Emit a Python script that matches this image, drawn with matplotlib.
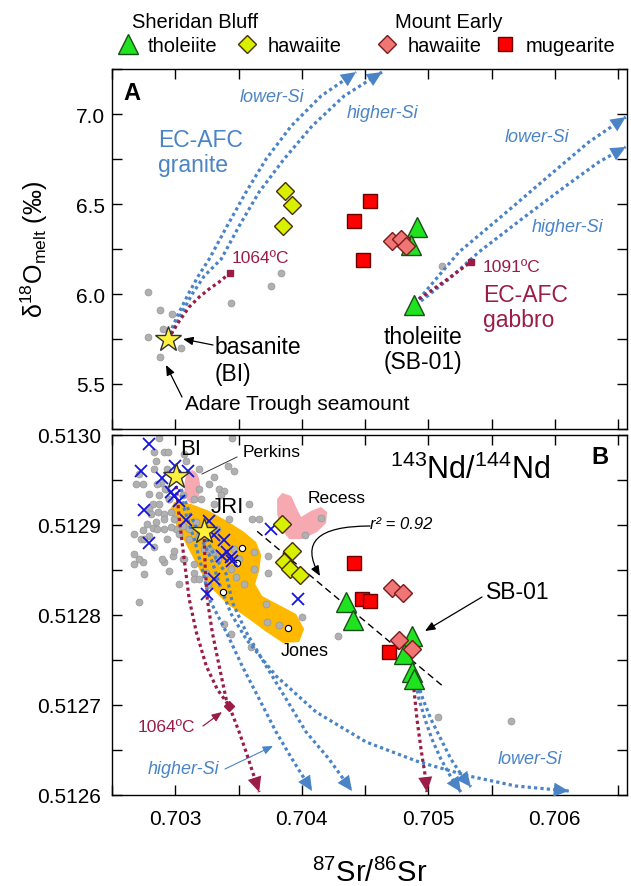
import matplotlib
matplotlib.use('Agg')
import matplotlib.pyplot as plt
from matplotlib.ticker import MultipleLocator, FormatStrFormatter
from matplotlib.patches import Polygon, Ellipse
from matplotlib.lines import Line2D

plt.rcParams['font.family'] = ['Liberation Sans', 'DejaVu Sans']

# ---------------- DATA: panel A (d18O melt vs 87Sr/86Sr) ----------------
sbthA_x = [0.70491, 0.70486, 0.70489]
sbthA_y = [6.372, 6.272, 5.94]
sbhwA_x = [0.70387, 0.70392, 0.70385]
sbhwA_y = [6.572, 6.494, 6.378]
mehwA_x = [0.70471, 0.70478, 0.70482]
mehwA_y = [6.294, 6.306, 6.267]
memgA_x = [0.70454, 0.70441, 0.70448]
memgA_y = [6.517, 6.406, 6.189]
biA = (0.702945, 5.75)
grayA_x = [0.702787, 0.702882, 0.702976, 0.702905, 0.702787, 0.703047, 0.702882,
           0.703442, 0.703758, 0.703837, 0.705107]
grayA_y = [6.011, 5.911, 5.889, 5.806, 5.761, 5.700, 5.650, 5.950, 6.044, 6.117, 6.156]

granLo_x = [0.702953, 0.703024, 0.703103, 0.703182, 0.703268, 0.703410, 0.703560,
            0.703718, 0.703916, 0.704152, 0.704429]
granHi_x = [0.702968, 0.703047, 0.703134, 0.703229, 0.703363, 0.703505, 0.703663,
            0.703860, 0.704081, 0.704334, 0.704634]
gran_y = [5.778, 5.889, 6.000, 6.100, 6.194, 6.378, 6.567, 6.750, 6.933, 7.100, 7.233]
granRed_x = [0.702968, 0.703032, 0.703110, 0.703189, 0.703268, 0.703347, 0.703434]
granRed_y = [5.778, 5.850, 5.928, 5.983, 6.028, 6.067, 6.117]
gabLo_x = [0.704926, 0.705242, 0.705581, 0.705952, 0.706268, 0.706560]
gabLo_y = [5.972, 6.233, 6.433, 6.656, 6.844, 6.983]
gabHi_x = [0.704942, 0.705163, 0.705399, 0.705739, 0.706086, 0.706347, 0.706560]
gabHi_y = [5.961, 6.083, 6.233, 6.417, 6.600, 6.733, 6.817]
gabRed_x = [0.704926, 0.705131, 0.705336]
gabRed_y = [5.972, 6.072, 6.178]

# ---------------- DATA: panel B (143Nd/144Nd vs 87Sr/86Sr) ----------------
sbthB_x = [0.704350, 0.704405, 0.704871, 0.704807, 0.704871, 0.704886]
sbthB_y = [0.512814, 0.512794, 0.512777, 0.512757, 0.512737, 0.512729]
sbhwB_x = [0.703845, 0.703923, 0.703860, 0.703908, 0.703987]
sbhwB_y = [0.512901, 0.512871, 0.512859, 0.512851, 0.512844]
mehwB_x = [0.704713, 0.704800, 0.704768, 0.704871]
mehwB_y = [0.512830, 0.512824, 0.512772, 0.512762]
memgB_x = [0.704413, 0.704476, 0.704539, 0.704689]
memgB_y = [0.512858, 0.512818, 0.512816, 0.512759]
biB = (0.703008, 0.512954)
jriB = (0.703229, 0.512893)
xB_x = [0.702795, 0.702732, 0.702897, 0.703000, 0.703103, 0.702968, 0.702992, 0.703032,
        0.702755, 0.703087, 0.702795, 0.703268, 0.703308, 0.703387, 0.703371, 0.703410,
        0.703442, 0.703450, 0.703308, 0.703253, 0.703758, 0.703971]
xB_y = [0.512990, 0.512960, 0.512952, 0.512966, 0.512960, 0.512937, 0.512932, 0.512927,
        0.512917, 0.512906, 0.512880, 0.512904, 0.512889, 0.512883, 0.512866, 0.512870,
        0.512864, 0.512860, 0.512840, 0.512823, 0.512896, 0.512818]
grayB_x = [0.702874, 0.703452, 0.702834, 0.702913, 0.702939, 0.702847, 0.703084, 0.703413,
           0.703466, 0.703308, 0.702716, 0.702690, 0.702742, 0.702887, 0.702926, 0.702874,
           0.702953, 0.703058, 0.703347, 0.703387, 0.703360, 0.703203, 0.702821, 0.702795,
           0.702861, 0.702913, 0.702966, 0.702992, 0.702847, 0.702821, 0.702742, 0.702676,
           0.702729, 0.702795, 0.702913, 0.703005, 0.703058, 0.703111, 0.703163, 0.703189,
           0.703268, 0.703295, 0.703334, 0.703466, 0.703610, 0.703624, 0.703729, 0.703729,
           0.702676, 0.702742, 0.702913, 0.702979, 0.703058, 0.703150, 0.703242, 0.703255,
           0.703150, 0.702716, 0.703479, 0.703440, 0.704002, 0.703718, 0.703726, 0.703821,
           0.703387, 0.703442, 0.703600, 0.704287, 0.705076, 0.705652, 0.704152, 0.704026,
           0.702858, 0.702921, 0.702795, 0.702953, 0.702874, 0.702811, 0.702913, 0.702968,
           0.702858, 0.702779, 0.703032, 0.703110, 0.702937, 0.702834, 0.702992, 0.703071,
           0.702897, 0.703150, 0.702953, 0.703189, 0.703032, 0.702716, 0.702755, 0.703229,
           0.703150, 0.703189, 0.703268, 0.703189, 0.702937, 0.702834, 0.703071, 0.703308,
           0.703331, 0.703505, 0.703545, 0.703624, 0.703426, 0.703584, 0.703663, 0.702755,
           0.702676]
grayB_y = [0.512997, 0.512997, 0.512981, 0.512981, 0.512981, 0.512971, 0.512971, 0.512966,
           0.512960, 0.512953, 0.512957, 0.512946, 0.512946, 0.512947, 0.512940, 0.512933,
           0.512929, 0.512933, 0.512940, 0.512938, 0.512933, 0.512929, 0.512923, 0.512918,
           0.512914, 0.512912, 0.512914, 0.512907, 0.512903, 0.512897, 0.512894, 0.512890,
           0.512884, 0.512888, 0.512896, 0.512896, 0.512899, 0.512896, 0.512903, 0.512888,
           0.512873, 0.512870, 0.512862, 0.512873, 0.512907, 0.512870, 0.512847, 0.512866,
           0.512857, 0.512859, 0.512859, 0.512866, 0.512862, 0.512847, 0.512847, 0.512833,
           0.512840, 0.512814, 0.512842, 0.512851, 0.512798, 0.512812, 0.512792, 0.512789,
           0.512790, 0.512779, 0.512764, 0.512777, 0.512687, 0.512682, 0.512908, 0.512889,
           0.512946, 0.512940, 0.512934, 0.512929, 0.512923, 0.512912, 0.512907, 0.512898,
           0.512896, 0.512901, 0.512890, 0.512884, 0.512884, 0.512876, 0.512871, 0.512862,
           0.512862, 0.512857, 0.512849, 0.512840, 0.512834, 0.512862, 0.512846, 0.512873,
           0.512929, 0.512940, 0.512946, 0.512962, 0.512962, 0.512962, 0.512979, 0.512923,
           0.512896, 0.512862, 0.512834, 0.512851, 0.512907, 0.512923, 0.512907, 0.512884,
           0.512868]
jonesW_x = [0.703529, 0.703489, 0.703379, 0.703892]
jonesW_y = [0.512874, 0.512858, 0.512826, 0.512786]
jones_x = [0.702992, 0.703126, 0.703268, 0.703410, 0.703545, 0.703639, 0.703679, 0.703663,
           0.703631, 0.703687, 0.703821, 0.703955, 0.704018, 0.703979, 0.703852, 0.703710,
           0.703560, 0.703410, 0.703292, 0.703197, 0.703126, 0.703055, 0.702992, 0.702961]
jones_y = [0.5129256, 0.5129233, 0.5129156, 0.5129044, 0.5128922, 0.5128811, 0.5128667,
           0.5128489, 0.5128344, 0.5128211, 0.5128111, 0.5128011, 0.5127844, 0.5127700,
           0.5127689, 0.5127822, 0.5127978, 0.5128122, 0.5128289, 0.5128489, 0.5128678,
           0.5128867, 0.5129044, 0.5129178]
recess_x = [0.703805, 0.703845, 0.703916, 0.703955, 0.703994, 0.704073, 0.704152, 0.704200,
            0.704192, 0.704121, 0.704002, 0.703900, 0.703837, 0.703805]
recess_y = [0.5129289, 0.5129356, 0.5129322, 0.5129200, 0.5129089, 0.5129156, 0.5129200,
            0.5129144, 0.5129022, 0.5128922, 0.5128844, 0.5128844, 0.5128956, 0.5129122]
perkins_c = (0.703134, 0.5129422)
reg_x = [0.703647, 0.705123]
reg_y = [0.512893, 0.512720]

red1_x = [0.703008, 0.703032, 0.703063, 0.703110, 0.703166, 0.703245, 0.703331, 0.703426,
          0.703505, 0.703560, 0.703663]
red1_y = [0.5129433, 0.5129067, 0.5128700, 0.5128178, 0.5127811, 0.5127433, 0.5127178,
          0.5126989, 0.5126700, 0.5126478, 0.5126033]
red2_x = [0.703229, 0.703237, 0.703253, 0.703292, 0.703347, 0.703402, 0.703426]
red2_y = [0.5128844, 0.5128511, 0.5128178, 0.5127811, 0.5127433, 0.5127067, 0.5126989]
red3_x = [0.704886, 0.704910, 0.704942, 0.704973, 0.704989]
red3_y = [0.5127178, 0.5126844, 0.5126511, 0.5126233, 0.5126033]
blu1_x = [0.703032, 0.703071, 0.703150, 0.703213, 0.703268, 0.703403, 0.703529, 0.703663,
          0.703797, 0.703923, 0.704081]
blu1_y = [0.5129400, 0.5129178, 0.5128844, 0.5128511, 0.5128178, 0.5127811, 0.5127433,
          0.5127067, 0.5126700, 0.5126400, 0.5126044]
blu2_x = [0.703245, 0.703324, 0.703403, 0.703450, 0.703560, 0.703718, 0.703876, 0.704034,
          0.704215, 0.704397]
blu2_y = [0.5128844, 0.5128622, 0.5128456, 0.5128144, 0.5127811, 0.5127433, 0.5127067,
          0.5126700, 0.5126400, 0.5126044]
blu3_x = [0.703047, 0.703110, 0.703189, 0.703284, 0.703363, 0.703442, 0.703560, 0.703797,
          0.704113, 0.704508, 0.704926, 0.705320, 0.705691, 0.706110]
blu3_y = [0.5129400, 0.5129144, 0.5128900, 0.5128622, 0.5128289, 0.5128011, 0.5127733,
          0.5127322, 0.5126922, 0.5126589, 0.5126367, 0.5126211, 0.5126100, 0.5126044]
sb1_x = [0.704902, 0.704926, 0.704973, 0.705028, 0.705099, 0.705178, 0.705257]
sb1_y = [0.5127233, 0.5127067, 0.5126844, 0.5126622, 0.5126400, 0.5126200, 0.5126033]
sb2_x = [0.704918, 0.704957, 0.705020, 0.705099, 0.705178, 0.705257, 0.705336]
sb2_y = [0.5127233, 0.5127067, 0.5126844, 0.5126622, 0.5126400, 0.5126233, 0.5126089]

# ---------------- styling ----------------
BLUE = '#4a84c6'
DRED = '#9b1c47'
GREEN = '#1fe31f'
YGRN = '#d6f000'
SALM = '#f07575'
RED = '#ff0000'
GRAYF = '#b0b0b0'
GRAYE = '#979797'

W, H = 631, 887
fig = plt.figure(figsize=(W / 100, H / 100), dpi=100)
axA = fig.add_axes([112 / W, 1 - 430 / H, 515 / W, 360 / H])
axB = fig.add_axes([112 / W, 1 - 796 / H, 515 / W, 360 / H])


def fa(px, py):
    return ((px - 112) / 515, (430 - py) / 360)


def fb(px, py):
    return ((px - 112) / 515, (796 - py) / 360)


DOT = (0, (1, 1))


def dotted(ax, xs, ys, color, head=True, lw=2.3, z=3):
    ax.plot(xs, ys, color=color, lw=lw, ls=DOT, zorder=z)
    if head:
        ax.annotate('', xy=(xs[-1], ys[-1]), xytext=(xs[-2], ys[-2]),
                    arrowprops=dict(arrowstyle='-|>,head_length=0.9,head_width=0.42',
                                    color=color, lw=0, shrinkA=0, shrinkB=0,
                                    mutation_scale=12), zorder=z, annotation_clip=False)


def symbols(ax, x, y, marker, fc, ec, ms, z=6):
    ax.plot(x, y, ls='none', marker=marker, mfc=fc, mec=ec, ms=ms, mew=1.0, zorder=z)


for ax in (axA, axB):
    ax.set_xlim(0.70250, 0.70657)
    ax.xaxis.set_major_locator(MultipleLocator(0.001))
    ax.xaxis.set_minor_locator(MultipleLocator(0.0005))
    ax.tick_params(which='both', direction='in', length=7, width=1,
                   top=True, right=True, labelsize=15)
    for s in ax.spines.values():
        s.set_linewidth(1.0)

# ---------- Panel A ----------
axA.set_ylim(5.25, 7.25)
axA.yaxis.set_major_locator(MultipleLocator(0.5))
axA.yaxis.set_minor_locator(MultipleLocator(0.25))
axA.yaxis.set_major_formatter(FormatStrFormatter('%.1f'))
axA.tick_params(axis='x', labelbottom=False)
axA.tick_params(axis='y', pad=5)

axA.plot(grayA_x, grayA_y, ls='none', marker='o', ms=5, mfc=GRAYF, mec=GRAYE,
         mew=0.5, zorder=2)
dotted(axA, granLo_x, gran_y, BLUE)
dotted(axA, granHi_x, gran_y, BLUE)
dotted(axA, gabLo_x, gabLo_y, BLUE)
dotted(axA, gabHi_x, gabHi_y, BLUE)
dotted(axA, granRed_x, granRed_y, DRED, head=False, z=4)
axA.plot(granRed_x[-1], granRed_y[-1], marker='s', ms=5, color=DRED, zorder=4)
dotted(axA, gabRed_x, gabRed_y, DRED, head=False, z=4)
axA.plot(gabRed_x[-1], gabRed_y[-1], marker='s', ms=5, color=DRED, zorder=4)

symbols(axA, sbthA_x, sbthA_y, '^', GREEN, '#1b4d1b', 14)
symbols(axA, sbhwA_x, sbhwA_y, 'D', YGRN, '#4a2e00', 9.5)
symbols(axA, mehwA_x, mehwA_y, 'D', SALM, '#7a1a1a', 9.5)
symbols(axA, memgA_x, memgA_y, 's', RED, '#6a0000', 10.5)
axA.plot(*biA, marker='*', ms=19, mfc='#fff03a', mec='#333333', mew=1.0, zorder=7)

tA = axA.transAxes
axA.text(*fa(132, 93), 'A', transform=tA, fontsize=17, fontweight='bold',
         ha='center', va='center')
axA.text(*fa(272, 97), 'lower-Si', transform=tA, fontsize=13, style='italic',
         color=BLUE, ha='center', va='center')
axA.text(*fa(383, 113), 'higher-Si', transform=tA, fontsize=13, style='italic',
         color=BLUE, ha='center', va='center')
axA.text(*fa(537, 137), 'lower-Si', transform=tA, fontsize=13, style='italic',
         color=BLUE, ha='center', va='center')
axA.text(*fa(568, 227), 'higher-Si', transform=tA, fontsize=13, style='italic',
         color=BLUE, ha='center', va='center')
axA.text(*fa(158, 140), 'EC-AFC', transform=tA, fontsize=16.5, color=BLUE,
         ha='left', va='center')
axA.text(*fa(158, 165), 'granite', transform=tA, fontsize=16.5, color=BLUE,
         ha='left', va='center')
axA.text(*fa(232, 258), '1064ºC', transform=tA, fontsize=12.5, color=DRED,
         ha='left', va='center')
axA.text(*fa(483, 267), '1091ºC', transform=tA, fontsize=12.5, color=DRED,
         ha='left', va='center')
axA.text(*fa(483, 296), 'EC-AFC', transform=tA, fontsize=16.5, color=DRED,
         ha='left', va='center')
axA.text(*fa(483, 320), 'gabbro', transform=tA, fontsize=16.5, color=DRED,
         ha='left', va='center')
axA.text(*fa(423, 337), 'tholeiite', transform=tA, fontsize=16.5, ha='center', va='center')
axA.text(*fa(423, 363), '(SB-01)', transform=tA, fontsize=16.5, ha='center', va='center')
axA.text(*fa(215, 348), 'basanite', transform=tA, fontsize=16.5, ha='left', va='center')
axA.text(*fa(215, 375), '(BI)', transform=tA, fontsize=16.5, ha='left', va='center')
axA.text(*fa(185, 405), 'Adare Trough seamount', transform=tA, fontsize=15,
         ha='left', va='center')
ap = dict(arrowstyle='-|>,head_length=0.6,head_width=0.25', color='black', lw=0.9,
          shrinkA=0, shrinkB=0, mutation_scale=10)
axA.annotate('', xy=fa(183, 340), xytext=fa(213, 346), xycoords='axes fraction',
             textcoords='axes fraction', arrowprops=ap)
axA.annotate('', xy=fa(166, 366), xytext=fa(182, 398), xycoords='axes fraction',
             textcoords='axes fraction', arrowprops=ap)

# ---------- Panel B ----------
axB.set_ylim(0.5126, 0.5130)
axB.yaxis.set_major_locator(MultipleLocator(0.0001))
axB.yaxis.set_minor_locator(MultipleLocator(0.00005))
axB.yaxis.set_major_formatter(FormatStrFormatter('%.4f'))
axB.xaxis.set_major_formatter(FormatStrFormatter('%.3f'))
axB.tick_params(axis='y', pad=8)
axB.tick_params(axis='x', pad=10)

axB.add_patch(Polygon(list(zip(jones_x, jones_y)), closed=True, fc='#ffb800', ec='none',
                      zorder=1))
axB.add_patch(Polygon(list(zip(recess_x, recess_y)), closed=True, fc='#f7a9b2', ec='none',
                      zorder=1))
axB.add_patch(Ellipse(perkins_c, 0.000125, 0.000037, fc='#f7a9b2', ec='none', zorder=1))
axB.plot(grayB_x, grayB_y, ls='none', marker='o', ms=5, mfc=GRAYF, mec=GRAYE,
         mew=0.5, zorder=2)
axB.plot(jonesW_x, jonesW_y, ls='none', marker='o', ms=4.5, mfc='white', mec='black',
         mew=0.8, zorder=5)
axB.plot(reg_x, reg_y, color='black', lw=1.0, ls=(0, (5, 3)), zorder=3)

dotted(axB, blu1_x, blu1_y, BLUE)
dotted(axB, blu2_x, blu2_y, BLUE)
dotted(axB, blu3_x, blu3_y, BLUE)
dotted(axB, sb1_x, sb1_y, BLUE)
dotted(axB, sb2_x, sb2_y, BLUE)
dotted(axB, red1_x, red1_y, DRED, z=4)
dotted(axB, red2_x, red2_y, DRED, head=False, z=4)
dotted(axB, red3_x, red3_y, DRED, z=4)
axB.plot(red1_x[7], red1_y[7], marker='D', ms=5, color=DRED, zorder=4)

axB.plot(xB_x, xB_y, ls='none', marker='x', ms=8, mec='#1414e0', mew=1.3, zorder=5)
symbols(axB, sbhwB_x, sbhwB_y, 'D', YGRN, '#4a2e00', 9.5)
symbols(axB, memgB_x, memgB_y, 's', RED, '#6a0000', 10.5)
symbols(axB, sbthB_x, sbthB_y, '^', GREEN, '#1b4d1b', 14)
symbols(axB, mehwB_x, mehwB_y, 'D', SALM, '#7a1a1a', 9.5, z=7)
axB.plot(*biB, marker='*', ms=19, mfc='#fff03a', mec='#333333', mew=1.0, zorder=8)
axB.plot(*jriB, marker='*', ms=19, mfc='#fff03a', mec='#333333', mew=1.0, zorder=8)

tB = axB.transAxes
axB.text(*fb(470, 470), '$^{\\mathregular{143}}$Nd/$^{\\mathregular{144}}$Nd', transform=tB,
         fontsize=22, ha='center', va='center')
axB.text(*fb(600, 458), 'B', transform=tB, fontsize=17, fontweight='bold',
         ha='center', va='center')
axB.text(*fb(191, 450), 'BI', transform=tB, fontsize=16, ha='center', va='center')
axB.text(*fb(227, 508), 'JRI', transform=tB, fontsize=16, ha='center', va='center')
axB.text(*fb(272, 453), 'Perkins', transform=tB, fontsize=12.5, ha='center', va='center')
axB.plot(*zip(fb(237, 458), fb(202, 475)), transform=tB, color='#333333', lw=0.7, zorder=3)
axB.text(*fb(337, 499), 'Recess', transform=tB, fontsize=12.5, ha='center', va='center')
axB.text(*fb(401, 525), 'r² = 0.92', transform=tB, fontsize=12, style='italic',
         ha='center', va='center')
axB.annotate('', xy=fb(320, 577), xytext=fb(370, 527), xycoords='axes fraction',
             textcoords='axes fraction',
             arrowprops=dict(arrowstyle='-|>,head_length=0.6,head_width=0.25',
                             color='black', lw=0.9, shrinkA=0, shrinkB=0, mutation_scale=10,
                             connectionstyle='angle3,angleA=180,angleB=-60'))
axB.text(*fb(518, 593), 'SB-01', transform=tB, fontsize=16.5, ha='center', va='center')
axB.annotate('', xy=fb(425, 632), xytext=fb(482, 598), xycoords='axes fraction',
             textcoords='axes fraction', arrowprops=ap)
axB.text(*fb(305, 652), 'Jones', transform=tB, fontsize=13, ha='center', va='center')
axB.text(*fb(166, 728), '1064ºC', transform=tB, fontsize=12.5, color=DRED,
         ha='center', va='center')
axB.annotate('', xy=fb(222, 713), xytext=fb(203, 727), xycoords='axes fraction',
             textcoords='axes fraction',
             arrowprops=dict(ap, color=DRED))
axB.text(*fb(184, 770), 'higher-Si', transform=tB, fontsize=13, style='italic',
         color=BLUE, ha='center', va='center')
axB.annotate('', xy=fb(273, 747), xytext=fb(225, 770), xycoords='axes fraction',
             textcoords='axes fraction',
             arrowprops=dict(ap, color=BLUE, lw=0.8))
axB.text(*fb(530, 760), 'lower-Si', transform=tB, fontsize=13, style='italic',
         color=BLUE, ha='center', va='center')

# axis labels
fig.text(34 / W, 1 - 250 / H, 'δ$^{\\mathregular{18}}$O$_{\\mathregular{melt}}$ (‰)',
         rotation=90, ha='center', va='center', fontsize=18)
fig.text(370 / W, 1 - 873 / H, '$^{\\mathregular{87}}$Sr/$^{\\mathregular{86}}$Sr',
         ha='center', va='center', fontsize=21)

# legend
fig.text(132 / W, 1 - 22 / H, 'Sheridan Bluff', fontsize=14.5, ha='left', va='center')
fig.text(395 / W, 1 - 22 / H, 'Mount Early', fontsize=14.5, ha='left', va='center')
h_th = Line2D([], [], ls='none', marker='^', mfc=GREEN, mec='#1b4d1b', ms=14)
h_sh = Line2D([], [], ls='none', marker='D', mfc=YGRN, mec='#4a2e00', ms=9.5)
h_mh = Line2D([], [], ls='none', marker='D', mfc=SALM, mec='#7a1a1a', ms=9.5)
h_mm = Line2D([], [], ls='none', marker='s', mfc=RED, mec='#6a0000', ms=10.5)
fig.legend([h_th, h_sh], ['tholeiite', 'hawaiite'], ncol=2, loc='center left',
           bbox_to_anchor=(116 / W, 1 - 47 / H), frameon=False, fontsize=14.5,
           borderpad=0, borderaxespad=0, handlelength=1.2, handletextpad=0.4,
           columnspacing=0.85)
fig.legend([h_mh, h_mm], ['hawaiite', 'mugearite'], ncol=2, loc='center left',
           bbox_to_anchor=(375 / W, 1 - 47 / H), frameon=False, fontsize=14.5,
           borderpad=0, borderaxespad=0, handlelength=1.2, handletextpad=0.4,
           columnspacing=0.6)

fig.savefig('out.png', dpi=100)
